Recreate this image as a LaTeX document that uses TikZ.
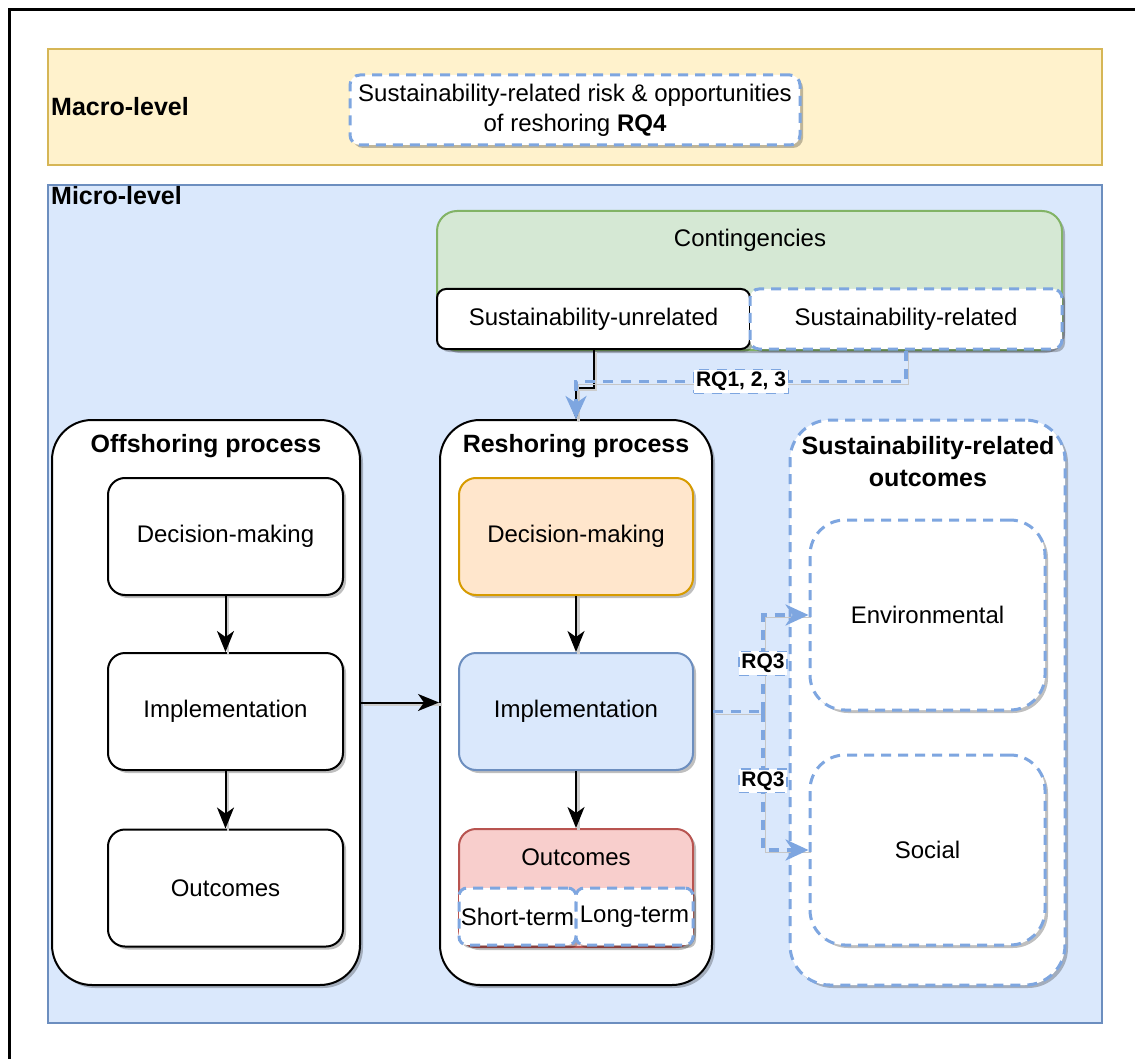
\documentclass[tikz,border=0pt]{standalone}
\usepackage{fontspec}
\setmainfont{Liberation Sans}
\usepackage{xcolor}
\definecolor{macrofill}{HTML}{FFF2CC}
\definecolor{macrodraw}{HTML}{D6B656}
\definecolor{microfill}{HTML}{DAE8FC}
\definecolor{microdraw}{HTML}{6C8EBF}
\definecolor{contfill}{HTML}{D5E8D4}
\definecolor{contdraw}{HTML}{82B366}
\definecolor{decfill}{HTML}{FFE6CC}
\definecolor{decdraw}{HTML}{D79B00}
\definecolor{outfill}{HTML}{F8CECC}
\definecolor{outdraw}{HTML}{B85450}
\definecolor{rqblue}{HTML}{7EA6E0}
\usepackage{tikz}
\usetikzlibrary{arrows.meta, positioning, shadows}

\begin{document}
\begin{tikzpicture}[x=1pt, y=-1pt,
  txt/.style={font=\fontsize{24}{30}\selectfont, align=center},
  bold/.style={font=\fontsize{25}{32}\selectfont\bfseries, align=center, inner sep=2pt},
  boxshadow/.style={drop shadow={shadow xshift=3pt, shadow yshift=-3pt, fill=black, opacity=0.25}},
  level/.style={rectangle, line width=2pt},
  procbox/.style={rectangle, rounded corners=40pt, draw=black, fill=white, line width=2pt,
    minimum height=565pt, boxshadow},
  stepbox/.style={txt, rectangle, rounded corners=17pt, draw=black, fill=white, line width=2pt,
    minimum width=235pt, minimum height=117pt, boxshadow},
  dashbox/.style={txt, rectangle, draw=rqblue, fill=white, line width=3pt,
    dash pattern=on 10pt off 7pt, boxshadow},
  rqtag/.style={draw=rqblue, fill=white, line width=1.3pt, inner sep=2.5pt,
    font=\fontsize{21}{24}\selectfont\bfseries},
  flow/.style={draw=black, line width=2pt, -{Stealth[length=21pt, width=17pt, inset=6pt]},
    preaction={draw=gray!40, -, line width=2.5pt, transform canvas={shift={(2.5pt,-2pt)}}}},
  rqflow/.style={draw=rqblue, line width=3.5pt, dash pattern=on 10pt off 8pt,
    -{Stealth[length=23pt, width=21pt, inset=7pt, fill=rqblue]},
    preaction={draw=gray!45, -, transform canvas={shift={(2.5pt,-2.5pt)}}}}
]
\useasboundingbox (0,0) rectangle (1135,1059);
\draw[line width=3pt] (9,1059) -- (9,10) -- (1135,10);

\node[level, draw=macrodraw, fill=macrofill, minimum width=1054pt, minimum height=116pt] (macro) at (575,107) {};
\node[bold, anchor=west] (macrolbl) at ([xshift=2pt]macro.west) {Macro-level};
\node[dashbox, rounded corners=10pt, minimum width=450pt, minimum height=70pt] (rqfour) at (575,110)
  {Sustainability-related risk \& opportunities\\of reshoring \textbf{RQ4}};

\node[level, draw=microdraw, fill=microfill, minimum width=1054pt, minimum height=838pt] (micro) at (575,604) {};
\node[bold, anchor=north west] (microlbl) at ([xshift=2pt]micro.north west) {Micro-level};

\node[level, rounded corners=20pt, draw=contdraw, fill=contfill, minimum width=625pt, minimum height=139pt, boxshadow] (cont) at (749.5,280.5) {};
\node[txt] (contlbl) at (750,240) {Contingencies};
\node[stepbox, rounded corners=9pt, minimum width=313pt, minimum height=60pt] (unrel) at (593.5,319) {Sustainability-unrelated};
\node[dashbox, rounded corners=9pt, minimum width=312pt, minimum height=60pt] (rel) at (906,319) {Sustainability-related};

\node[procbox, minimum width=308pt] (off) at (206,702.5) {};
\node[bold] (offlbl) at (206,446) {Offshoring process};
\node[stepbox] (odec) at (225.5,536.5) {Decision-making};
\node[stepbox] (oimp) at (225.5,711.5) {Implementation};
\node[stepbox] (oout) at (225.5,888) {Outcomes};

\node[procbox, minimum width=272pt] (resh) at (576,702.5) {};
\node[bold] (reshlbl) at (576,446) {Reshoring process};
\node[stepbox, draw=decdraw, fill=decfill, minimum width=234pt] (rdec) at (576,536.5) {Decision-making};
\node[stepbox, draw=microdraw, fill=microfill, minimum width=234pt] (rimp) at (576,711.5) {Implementation};
\node[stepbox, draw=outdraw, fill=outfill, minimum width=234pt, minimum height=118pt] (rout) at (576,888) {};
\node[txt] (routlbl) at (576,857) {Outcomes};
\node[dashbox, rounded corners=8pt, inner sep=0pt, minimum width=117pt, minimum height=57pt] (short) at (517.5,916.5) {Short-term};
\node[dashbox, rounded corners=8pt, inner sep=0pt, minimum width=117pt, minimum height=57pt] (long) at (634.5,916.5) {Long-term};

\node[dashbox, rounded corners=40pt, minimum width=275pt, minimum height=565pt] (sust) at (927.5,702.5) {};
\node[bold] (sustlbl) at (928,462) {Sustainability-related\\outcomes};
\node[dashbox, rounded corners=35pt, minimum width=235pt, minimum height=190pt] (env) at (927.5,615) {Environmental};
\node[dashbox, rounded corners=35pt, minimum width=235pt, minimum height=190pt] (soc) at (927.5,850) {Social};

\draw[flow] (odec) -- (oimp);
\draw[flow] (oimp) -- (oout);
\draw[flow] (rdec) -- (rimp);
\draw[flow] (rimp) -- (rout);
\draw[flow] (off) -- (resh);

\draw[flow] (unrel.south) -- ++(0,38) -| (resh.north);
\draw[rqflow] (rel.south) -- ++(0,31) -| node[rqtag, pos=0.25] (rqone) {RQ1, 2, 3} (resh.north);

\coordinate (split) at (763,711.5);
\draw[rqflow, -] (rimp.east -| resh.east) -- (split);
\draw[rqflow] (split) |- node[rqtag, pos=0.25] (rqenv) {RQ3} (env.west);
\draw[rqflow] (split) |- node[rqtag, pos=0.25] (rqsoc) {RQ3} (soc.west);
\end{tikzpicture}
\end{document}
